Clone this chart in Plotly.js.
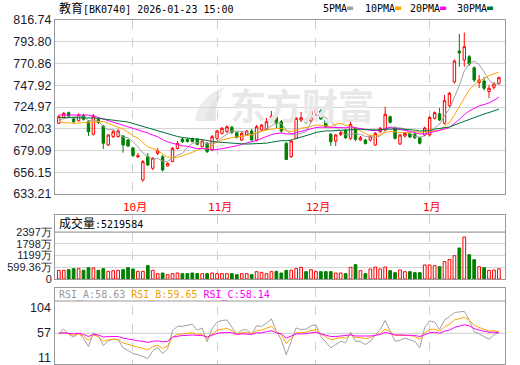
<!DOCTYPE html>
<html><head><meta charset="utf-8">
<script src="https://cdn.plot.ly/plotly-3.0.1.min.js"></script>
<style>html,body{margin:0;padding:0;background:#fff}#c{width:520px;height:365px}</style>
</head><body><div id="c"></div>
<script>
// ---- data (trading days 2025-09-10 .. 2026-01-23, index 0..89) ----
const monthLabels = ['10月','11月','12月','1月'];
const monthStart = [15, 32, 52, 75];
const open = [707.78,714.11,718.96,712.32,710.52,716.01,709.47,696.18,711.79,704.93,
684.89,693.65,693.65,694.38,690.16,681.73,672.45,647.97,672.76,660.31,
676.13,672.55,662.74,667.28,681.20,691.22,690.69,691.75,691.22,683.10,
686.69,679.62,691.96,697.23,698.92,703.56,697.86,690.16,695.44,699.66,
690.16,700.71,701.45,709.47,714.74,709.47,686.69,672.55,691.96,711.26,
711.26,710.21,719.17,720.76,711.26,696.18,689.11,696.18,700.71,691.96,
702.51,690.16,690.16,690.16,684.89,698.92,700.71,714.74,703.14,685.95,
694.38,697.02,696.18,692.59,695.44,695.44,713.05,717.90,707.78,726.35,
751.34,784.04,774.55,778.04,766.43,750.82,752.40,741.32,745.76,749.97];
const close = [714.74,718.33,715.48,709.47,716.54,712.00,698.92,715.48,708.62,686.69,
695.44,698.92,699.66,684.89,683.83,673.81,673.50,667.28,663.80,670.86,
678.56,658.52,665.59,681.41,686.69,688.37,688.58,688.58,685.63,689.11,
677.82,693.65,699.66,702.51,704.19,698.29,693.01,697.23,699.66,690.16,
704.19,705.99,709.47,715.48,707.78,699.66,669.60,689.11,713.05,713.69,
708.83,721.07,722.55,712.32,704.19,688.37,695.44,697.86,692.59,706.72,
690.90,692.59,686.47,694.38,697.23,702.51,717.27,708.83,691.96,695.44,
697.02,693.33,692.59,686.69,702.83,713.90,718.96,711.26,731.62,739.42,
773.49,781.94,788.58,770.33,753.45,753.45,744.70,744.70,749.24,755.88];
const high = [716.54,719.70,720.23,713.37,718.33,717.59,711.26,717.59,713.37,705.99,
696.49,700.71,701.77,695.44,691.22,682.78,676.45,669.07,676.45,672.24,
681.73,674.34,666.44,682.78,689.11,692.28,692.28,692.80,692.28,690.69,
688.06,695.44,700.71,703.88,705.46,704.93,699.13,698.60,700.71,701.77,
705.99,707.04,713.37,720.76,719.70,711.26,688.06,690.16,714.42,719.70,
713.37,723.92,723.92,722.86,712.32,697.55,696.49,699.66,701.77,709.15,
703.88,694.38,691.22,695.44,698.60,703.88,725.29,716.01,704.40,696.49,
698.60,698.07,697.55,693.86,704.19,715.48,720.23,723.92,737.63,740.80,
775.08,801.97,803.56,779.83,767.69,758.72,756.61,748.18,751.34,757.14];
const low = [707.04,713.37,714.42,708.10,709.68,710.73,694.38,694.91,707.04,680.67,
683.83,692.28,692.80,676.77,682.78,672.24,671.18,646.39,662.74,658.52,
674.34,656.93,662.21,666.96,680.15,687.00,687.53,687.53,684.36,682.25,
676.45,678.56,690.16,695.97,697.55,696.49,691.75,689.11,694.38,689.11,
688.58,699.66,700.71,708.10,702.83,697.55,669.07,671.18,691.22,709.15,
707.04,708.62,716.54,711.26,702.83,683.83,683.83,694.38,691.22,690.16,
689.11,689.11,685.42,688.58,683.83,697.55,699.66,707.57,690.69,684.89,
692.80,692.28,691.22,685.42,694.38,693.86,711.79,710.21,706.51,724.97,
749.76,767.48,767.48,768.22,751.34,745.02,742.38,734.47,743.43,748.18];
// volume in 万
const volume = [443,443,476,527,527,443,578,561,443,527,
391,425,443,476,578,510,391,391,680,443,
272,306,221,272,306,272,272,306,272,272,
272,306,272,272,272,272,221,272,272,221,
374,340,272,374,391,306,442,442,527,595,
374,476,374,374,374,374,306,306,272,595,
731,425,272,510,612,510,612,425,323,459,
374,374,323,323,714,714,680,629,884,986,
1190,1581,2142,1241,986,629,578,442,459,521.9584];
// moving-average values before enough history exists
const ma5Head = [711.26,712.84,713.90,714.42];
const ma10Head = [709.15,708.62,708.10,707.78,708.10,708.62,708.62,709.15,709.36];
const ma20Head = [716.54,716.54,716.75,716.75,716.75,716.75,716.54,715.48,713.90,712.32,
710.73,709.15,707.57,705.99,704.19,702.51,700.71,699.13,697.55];
const ma30Head = [713.90,713.90,714.11,714.11,714.11,713.90,713.58,713.37,713.05,712.52,
712.00,711.47,710.94,710.21,709.15,707.57,705.99,704.61,703.35,701.77,
700.18,698.60,697.02,695.44,693.86,692.80,691.96,691.43,691.01];
const rsiA = [57,65,55,50,57,48,32,58,52,34,
43,46,45,30,25,19,17,14,10,24,
31,19,28,62,70,70,72,74,63,67,
41,66,78,81,82,68,55,63,64,55,
71,70,76,84,61,45,17,42,67,64,
65,71,73,51,40,30,36,42,39,59,
42,42,36,42,54,64,81,61,42,44,
48,45,42,30,68,80,78,64,82,88,
96,97,98,82,60,56,51,46,54,58.63];
const rsiB = [56,58,56,53,56,52,44,54,51,42,
45,46,46,39,36,33,31,29,26,32,
35,29,33,50,55,56,57,58,55,56,
47,56,63,65,66,62,56,58,59,56,
62,63,66,70,60,54,38,48,58,58,
59,62,64,56,50,45,47,49,48,55,
49,49,47,49,53,57,65,60,53,53,
54,53,51,46,58,64,65,61,69,74,
82,85,87,82,72,68,64,61,62,59.65];
const rsiC = [57,58,57,56,57,55,51,55,54,50,
51,51,51,48,46,44,43,42,40,42,
43,41,42,50,52,53,53,54,53,53,
50,53,57,58,59,58,55,56,56,55,
58,58,60,62,58,56,48,52,56,56,
56,58,59,56,53,51,51,52,52,54,
52,52,51,52,53,55,59,57,54,54,
54,54,53,51,55,58,59,57,61,63,
68,71,73,71,66,63,61,59,59,58.14];
const priceTicks = [633.21,656.15,679.09,702.03,724.97,747.92,770.86,793.80,816.74];
const volTicks = [0,599.36,1198.72,1798.08,2397.44];
const volTickText = ['0','599.36万','1199万','1798万','2397万'];
const rsiTicks = [11,57,104];
const title = '教育[BK0740] 2026-01-23 15:00';

// ---- build ----
const idx = close.map((_, i) => i);
function ma(n, head) {
  return close.map((c, i) => {
    if (i < n - 1) return head[i];
    let s = 0; for (let k = i - n + 1; k <= i; k++) s += close[k];
    return s / n;
  });
}
const RED = '#ff0000', GREEN = '#008000';
const up = close.map((c, i) => c >= open[i]);
const mono = 'DejaVu Sans Mono, Noto Sans CJK SC, monospace';
const sans = 'Liberation Sans, Arial, sans-serif';
const labelColor = '#1b1b2f';

const traces = [
  {type:'candlestick', x: idx, open, high, low, close, xaxis:'x', yaxis:'y',
   increasing:{line:{color:RED,width:1}, fillcolor:'rgba(255,255,255,0)'},
   decreasing:{line:{color:GREEN,width:1}, fillcolor:GREEN},
   whiskerwidth:0, hoverinfo:'skip', showlegend:false},
  {type:'scatter', mode:'lines', x: idx, y: ma(5, ma5Head), line:{color:'#a0a0a0',width:1}, hoverinfo:'skip', showlegend:false},
  {type:'scatter', mode:'lines', x: idx, y: ma(10, ma10Head), line:{color:'#ffa500',width:1}, hoverinfo:'skip', showlegend:false},
  {type:'scatter', mode:'lines', x: idx, y: ma(20, ma20Head), line:{color:'#ff00ff',width:1}, hoverinfo:'skip', showlegend:false},
  {type:'scatter', mode:'lines', x: idx, y: ma(30, ma30Head), line:{color:'#006f3c',width:1}, hoverinfo:'skip', showlegend:false},
  {type:'bar', x: idx, y: volume, xaxis:'x2', yaxis:'y2', width:0.55,
   marker:{color: up.map(u => u ? '#ffffff' : GREEN), line:{color: up.map(u => u ? RED : GREEN), width:1}},
   hoverinfo:'skip', showlegend:false},
  {type:'scatter', mode:'lines', x: idx, y: rsiA, xaxis:'x3', yaxis:'y3', line:{color:'#a0a0a0',width:1}, hoverinfo:'skip', showlegend:false},
  {type:'scatter', mode:'lines', x: idx, y: rsiB, xaxis:'x3', yaxis:'y3', line:{color:'#ffa500',width:1}, hoverinfo:'skip', showlegend:false},
  {type:'scatter', mode:'lines', x: idx, y: rsiC, xaxis:'x3', yaxis:'y3', line:{color:'#ff00ff',width:1}, hoverinfo:'skip', showlegend:false}
];

const H = 365, T = 20, B = 1, PH = H - T - B;
const py = v => (H - B - v) / PH;          // pixel row -> paper y
const px = v => (v - 55) / 450;            // pixel col -> paper x
const xr = [-0.768, 90.233];
const xbase = {range: xr, tickvals: monthStart, showticklabels:false, ticks:'',
  showgrid:true, gridcolor:'#cfcfcf', griddash:'dash', gridwidth:1,
  showline:true, mirror:true, linecolor:'#999', linewidth:1, zeroline:false, fixedrange:true};
const ybase = {showline:true, mirror:true, linecolor:'#999', linewidth:1, zeroline:false,
  ticks:'', tickfont:{family:sans, size:12.5, color:labelColor}, gridcolor:'#d4d4d4', fixedrange:true};

const annotations = [
  {xref:'paper', yref:'paper', x:px(57), y:py(9), xanchor:'left', yanchor:'middle', showarrow:false,
   text:'<span style="font-size:12px">教育</span>[BK0740] 2026-01-23 15:00', font:{family:mono,size:10,color:'#000'}},
  {xref:'paper', yref:'paper', x:px(302), y:py(104), xanchor:'center', yanchor:'middle', showarrow:false,
   text:'<b>东方财富</b>', font:{family:'Noto Sans CJK SC', size:36, color:'#e8e8eb'}},
  {xref:'paper', yref:'paper', x:px(57), y:py(224), xanchor:'left', yanchor:'middle', showarrow:false,
   text:'<span style="font-size:12px">成交量</span>:5219584', font:{family:mono,size:10,color:'#000'}},
  {xref:'paper', yref:'paper', x:px(57), y:py(295), xanchor:'left', yanchor:'middle', showarrow:false,
   text:'<span style="color:#999">RSI_A:58.63</span> <span style="color:#f0a000">RSI_B:59.65</span> <span style="color:#ff00ff">RSI_C:58.14</span>',
   font:{family:mono,size:10,color:'#999'}}
];
rsiTicks.forEach(v => annotations.push({xref:'paper', yref:'y3', x:px(53), y:v, xanchor:'right', yanchor:'middle',
  showarrow:false, text:String(v), font:{family:sans, size:12.5, color:labelColor}}));
const legendItems = [['5PMA',321,'#a0a0a0'],['10PMA',363,'#ffa500'],['20PMA',408,'#ff00ff'],['30PMA',455,'#006f3c']];
const shapes = [
  {type:'line', xref:'paper', yref:'paper', x0:0, x1:1, y0:py(232), y1:py(232), line:{color:'#999',width:1}},
  {type:'line', xref:'paper', yref:'paper', x0:0, x1:1, y0:py(301), y1:py(301), line:{color:'#999',width:1}},
  {type:'line', xref:'x3', yref:'y3', x0:xr[0], x1:xr[1], y0:57, y1:57, line:{color:'#cfcfcf',width:1}, layer:'below'},
  // watermark logo
  {type:'path', xref:'paper', yref:'paper', layer:'below', fillcolor:'#ececef', line:{width:0},
   path:`M ${px(195)},${py(121)} Q ${px(197)},${py(98)} ${px(226)},${py(86)} Q ${px(212)},${py(100)} ${px(213)},${py(121)} Z`},
  {type:'path', xref:'paper', yref:'paper', layer:'below', fillcolor:'#e4e4e8', line:{width:0},
   path:`M ${px(205)},${py(121)} Q ${px(207)},${py(104)} ${px(222)},${py(94)} Q ${px(214)},${py(106)} ${px(216)},${py(121)} Z`}
];
legendItems.forEach(([t, x, c]) => {
  const w = t.length * 6.02;
  annotations.push({xref:'paper', yref:'paper', x:px(x), y:py(9), xanchor:'left', yanchor:'middle', showarrow:false,
    text:t, font:{family:mono,size:10,color:'#000'}});
  shapes.push({type:'rect', xref:'paper', yref:'paper', x0:px(x + w + 2), x1:px(x + w + 8), y0:py(10), y1:py(6.5),
    fillcolor:c, line:{width:0}});
});
monthStart.forEach((m, k) => annotations.push({xref:'x', yref:'paper', x:m + 0.5, y:py(207.5), xanchor:'center', yanchor:'middle',
  showarrow:false, text:monthLabels[k], font:{family:mono, size:11, color:'#ff0000'}}));

const layout = {
  width:520, height:365, margin:{l:55, r:15, t:T, b:B}, paper_bgcolor:'#fff', plot_bgcolor:'#fff',
  showlegend:false, dragmode:false, hovermode:false,
  xaxis: Object.assign({}, xbase, {anchor:'y', rangeslider:{visible:false}}),
  xaxis2: Object.assign({}, xbase, {anchor:'y2'}),
  xaxis3: Object.assign({}, xbase, {anchor:'y3'}),
  yaxis: Object.assign({}, ybase, {domain:[py(194), 1], range:[633.21, 816.74], tickvals:priceTicks,
    ticktext: priceTicks.map(v => v.toFixed(2)), showgrid:true}),
  yaxis2: Object.assign({}, ybase, {domain:[py(279), py(215)], range:[0, 2397.44 + 599.36 * 17 / 11.75],
    tickvals:volTicks, ticktext:volTickText, showgrid:true, tickfont:{family:sans, size:11, color:labelColor}}),
  yaxis3: Object.assign({}, ybase, {domain:[0, py(288)], range:[-0.4, 141.8], showticklabels:false, showgrid:false}),
  annotations, shapes
};
Plotly.newPlot('c', traces, layout, {staticPlot:true, displayModeBar:false});
</script></body></html>
